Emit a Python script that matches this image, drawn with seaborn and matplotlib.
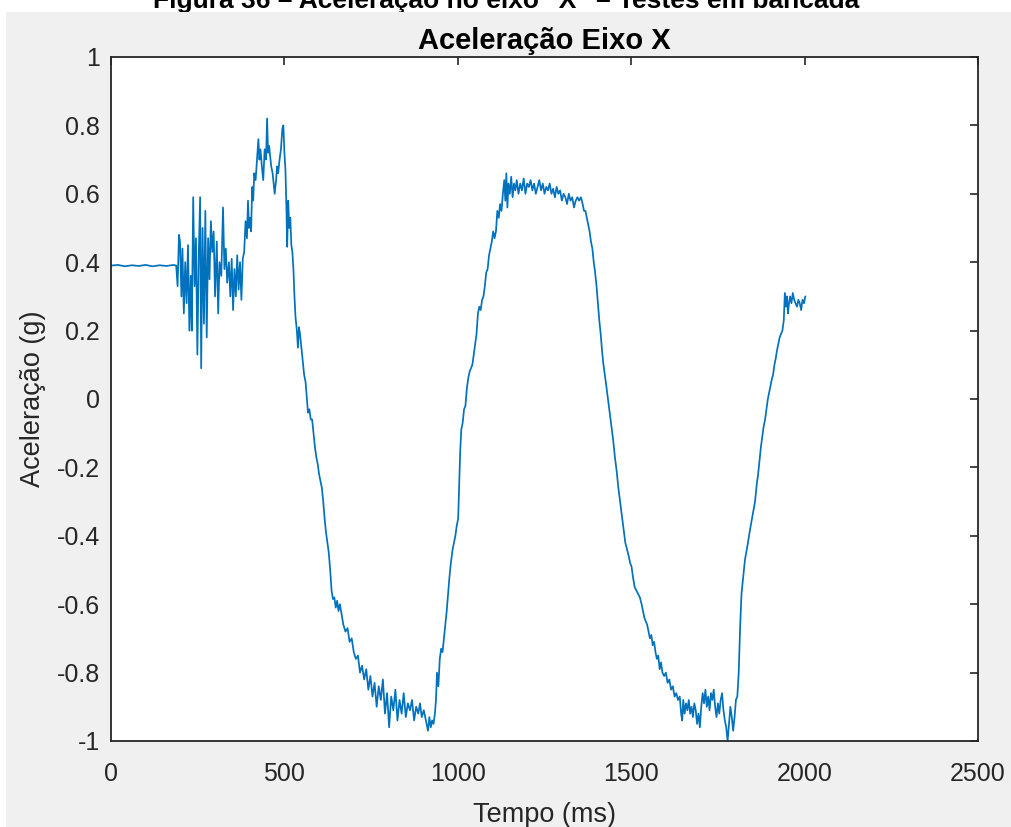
import matplotlib
matplotlib.use("Agg")
import matplotlib.pyplot as plt
from matplotlib.patches import Rectangle
import seaborn as sns
import pandas as pd

# ---- data ----
time_ms = [
    0, 20, 40, 60, 80, 100, 120, 140, 160, 180, 188,
    192, 196, 199, 203, 206, 210, 214, 218, 222, 226, 230, 233, 237, 241, 245, 249, 253, 257, 260, 264,
    268, 272, 276, 280, 284, 288, 292, 296, 300, 305, 309, 313, 318, 323, 327, 331, 335, 340, 344, 348,
    352, 356, 360, 364, 368, 372, 376, 380, 384,
    388, 392, 395, 398, 401, 404, 407, 410, 413, 417, 421, 425, 428, 431, 435, 439, 443, 447, 450, 453,
    456, 459, 462, 466, 469, 472, 476, 479, 482, 486, 490, 494, 497, 500, 503, 506,
    508, 511, 514, 517, 520, 523, 526, 529, 532, 536, 539, 542, 545, 549, 553, 557, 561, 565, 568, 572,
    576, 580, 584, 588, 592, 596, 600, 604, 608, 612, 616, 620, 624, 628, 632, 636,
    640, 644, 648, 652, 656, 660, 665, 670, 676, 682, 688, 694, 700, 706, 712, 718, 724, 730, 736, 742,
    748, 754, 760, 766, 772, 778, 784, 790, 796, 802, 808, 814, 820, 826, 832, 838, 844, 850, 856, 862,
    868, 874, 880, 886, 891, 896, 902, 908, 914, 918, 922, 926, 930, 934,
    937, 940, 944, 948, 952, 956, 960, 964, 968, 972, 976, 980, 985, 989, 993, 997, 1001, 1004, 1007, 1010,
    1014, 1018, 1022, 1026, 1030, 1034, 1038, 1042, 1046, 1050, 1054, 1058, 1062, 1066, 1070, 1074, 1078,
    1082, 1086, 1090, 1094, 1098, 1102, 1106, 1110, 1114, 1118, 1122, 1126, 1130, 1134, 1137,
    1140, 1143, 1146, 1150, 1154, 1158, 1162, 1166, 1170, 1175, 1180, 1185, 1190, 1195, 1200, 1205, 1210,
    1215, 1220, 1225, 1230, 1235, 1240, 1245, 1250, 1255, 1260, 1265, 1270, 1275, 1280, 1285, 1290, 1295,
    1300, 1305, 1310, 1315, 1320, 1325, 1330, 1335, 1340, 1345, 1350, 1355, 1360,
    1364, 1368, 1372, 1376, 1380, 1384, 1388, 1392, 1396, 1400, 1404, 1408, 1412, 1416, 1420, 1424, 1428,
    1433, 1438, 1443, 1448, 1453, 1458, 1463, 1468, 1473, 1478, 1483, 1488, 1493, 1497, 1501, 1505, 1510,
    1515, 1520, 1525, 1530, 1534, 1538, 1542, 1546, 1550, 1554, 1558, 1562, 1566, 1570, 1574, 1578, 1582,
    1586, 1590, 1595, 1600, 1605, 1610, 1615, 1620, 1625, 1630, 1635, 1640,
    1644, 1647, 1650, 1654, 1658, 1662, 1666, 1670, 1674, 1678, 1682, 1686, 1690, 1694, 1698, 1702, 1706,
    1710, 1714, 1718, 1722, 1726, 1730, 1734, 1738, 1742, 1746, 1750, 1754, 1758, 1762, 1766, 1770, 1774,
    1778, 1782, 1786, 1790, 1794, 1798, 1802, 1806, 1810,
    1814, 1818, 1822, 1828, 1835, 1843, 1850, 1857, 1862, 1866, 1870, 1874, 1878, 1882, 1886, 1890, 1894,
    1898, 1902, 1906, 1909, 1913, 1917, 1920, 1924, 1928, 1932, 1936, 1940, 1943, 1946, 1949, 1952, 1955,
    1958, 1962, 1966, 1970, 1974, 1978, 1982, 1986, 1990, 1994, 1998, 2002,
]

accel_g = [
    0.39, 0.392, 0.388, 0.391, 0.389, 0.392, 0.388, 0.391, 0.389, 0.392, 0.39,
    0.33, 0.48, 0.46, 0.30, 0.44, 0.25, 0.40, 0.28, 0.45, 0.20, 0.36, 0.20, 0.59, 0.33, 0.47, 0.13, 0.42, 0.59, 0.09, 0.50,
    0.22, 0.55, 0.18, 0.47, 0.35, 0.52, 0.43, 0.49, 0.30, 0.46, 0.25, 0.40, 0.36, 0.56, 0.38, 0.44, 0.34, 0.40, 0.30, 0.41,
    0.26, 0.38, 0.30, 0.42, 0.32, 0.40, 0.29, 0.41, 0.43,
    0.52, 0.47, 0.58, 0.50, 0.53, 0.49, 0.62, 0.58, 0.66, 0.64, 0.70, 0.76, 0.70, 0.73, 0.68, 0.64, 0.73, 0.70, 0.82, 0.72,
    0.74, 0.71, 0.68, 0.66, 0.63, 0.60, 0.64, 0.68, 0.66, 0.70, 0.73, 0.79, 0.80, 0.72, 0.67, 0.55,
    0.445, 0.58, 0.50, 0.53, 0.45, 0.43, 0.38, 0.30, 0.24, 0.20, 0.15, 0.21, 0.19, 0.15, 0.11, 0.07, 0.05, 0.00, -0.04, -0.03,
    -0.06, -0.06, -0.10, -0.14, -0.17, -0.19, -0.22, -0.24, -0.26, -0.30, -0.35, -0.39, -0.42, -0.45, -0.50, -0.56,
    -0.585, -0.58, -0.61, -0.59, -0.62, -0.60, -0.63, -0.66, -0.68, -0.67, -0.71, -0.70, -0.74, -0.76, -0.75, -0.80, -0.78, -0.82, -0.79, -0.85,
    -0.81, -0.87, -0.83, -0.90, -0.84, -0.88, -0.82, -0.92, -0.86, -0.96, -0.87, -0.91, -0.85, -0.94, -0.88, -0.92, -0.86, -0.93, -0.89, -0.91,
    -0.88, -0.94, -0.90, -0.92, -0.89, -0.93, -0.91, -0.94, -0.97, -0.93, -0.96, -0.94, -0.95, -0.92,
    -0.88, -0.80, -0.84, -0.76, -0.73, -0.74, -0.70, -0.66, -0.62, -0.57, -0.52, -0.48, -0.44, -0.42, -0.40, -0.37, -0.35, -0.25, -0.15, -0.09,
    -0.07, -0.03, -0.02, 0.03, 0.06, 0.08, 0.09, 0.10, 0.13, 0.16, 0.19, 0.25, 0.27, 0.26, 0.29, 0.30, 0.33,
    0.37, 0.38, 0.42, 0.44, 0.46, 0.49, 0.47, 0.49, 0.55, 0.53, 0.57, 0.55, 0.60, 0.64, 0.58,
    0.66, 0.56, 0.63, 0.60, 0.65, 0.59, 0.63, 0.61, 0.64, 0.60, 0.63, 0.61, 0.645, 0.60, 0.63, 0.62, 0.64,
    0.61, 0.63, 0.60, 0.62, 0.64, 0.61, 0.63, 0.60, 0.62, 0.61, 0.63, 0.60, 0.615, 0.59, 0.62, 0.60, 0.61,
    0.58, 0.60, 0.59, 0.57, 0.60, 0.58, 0.59, 0.56, 0.58, 0.59, 0.58, 0.59, 0.57,
    0.55, 0.55, 0.53, 0.51, 0.49, 0.46, 0.44, 0.40, 0.37, 0.33, 0.28, 0.23, 0.19, 0.14, 0.10, 0.07, 0.04,
    0.00, -0.04, -0.08, -0.12, -0.17, -0.21, -0.26, -0.30, -0.34, -0.38, -0.42, -0.44, -0.46, -0.48, -0.49, -0.52, -0.55,
    -0.56, -0.57, -0.58, -0.60, -0.62, -0.64, -0.65, -0.66, -0.68, -0.70, -0.69, -0.72, -0.71, -0.74, -0.76, -0.75, -0.79,
    -0.77, -0.80, -0.81, -0.80, -0.83, -0.82, -0.85, -0.84, -0.87, -0.86, -0.88, -0.87,
    -0.92, -0.94, -0.88, -0.92, -0.89, -0.91, -0.88, -0.92, -0.90, -0.93, -0.89, -0.91, -0.95, -0.92, -0.96, -0.90, -0.86,
    -0.89, -0.85, -0.90, -0.87, -0.91, -0.86, -0.88, -0.85, -0.90, -0.93, -0.89, -0.92, -0.88, -0.86, -0.91, -0.94, -0.96,
    -1.0, -0.95, -0.90, -0.93, -0.97, -0.93, -0.88, -0.87, -0.80,
    -0.67, -0.57, -0.53, -0.47, -0.43, -0.38, -0.34, -0.30, -0.25, -0.22, -0.18, -0.14, -0.11, -0.08, -0.06, -0.03, 0.00,
    0.02, 0.04, 0.06, 0.07, 0.10, 0.12, 0.14, 0.16, 0.18, 0.19, 0.20, 0.23, 0.31, 0.27, 0.30, 0.25, 0.28,
    0.30, 0.28, 0.31, 0.29, 0.28, 0.27, 0.29, 0.28, 0.26, 0.29, 0.28, 0.30,
]

x_ticks = [0, 500, 1000, 1500, 2000, 2500]
x_tick_labels = ["0", "500", "1000", "1500", "2000", "2500"]
y_ticks = [-1, -0.8, -0.6, -0.4, -0.2, 0, 0.2, 0.4, 0.6, 0.8, 1]
y_tick_labels = ["-1", "-0.8", "-0.6", "-0.4", "-0.2", "0", "0.2", "0.4", "0.6", "0.8", "1"]

caption = "Figura 36 – Aceleração no eixo \"X\" – Testes em bancada"
title = "Aceleração Eixo X"
x_label = "Tempo (ms)"
y_label = "Aceleração (g)"

# ---- style ----
sns.set_style("white")
plt.rcParams["font.family"] = ["Liberation Sans", "DejaVu Sans"]
plt.rcParams["axes.unicode_minus"] = False

W, H = 1012, 827
fig = plt.figure(figsize=(W / 100, H / 100), dpi=100)
fig.patch.set_facecolor("white")
fig.patches.append(Rectangle((6 / W, 0), 1, (H - 12) / H, transform=fig.transFigure,
                             facecolor="#f0f0f0", edgecolor="none", zorder=-10))

# caption of the source document, cut off at the top edge as in the reference
fig.text(0.5, 1 - 8 / H, caption, ha="center", va="baseline", fontsize=19,
         fontweight="bold", color="black", zorder=-20)

ax = fig.add_axes([111 / W, (H - 741) / H, 867 / W, 684 / H])
ax.set_facecolor("white")

df = pd.DataFrame({"Tempo": time_ms, "Aceleracao": accel_g})
sns.lineplot(data=df, x="Tempo", y="Aceleracao", ax=ax, color="#0072BD",
             linewidth=1.25, estimator=None, sort=False)

ax.set_xlim(0, 2500)
ax.set_ylim(-1, 1)
ax.set_xticks(x_ticks)
ax.set_xticklabels(x_tick_labels)
ax.set_yticks(y_ticks)
ax.set_yticklabels(y_tick_labels)

axis_color = "#262626"
for s in ax.spines.values():
    s.set_visible(True)
    s.set_color(axis_color)
    s.set_linewidth(1.3)
ax.tick_params(axis="both", which="both", direction="in", length=6, width=1.2,
               colors=axis_color, labelsize=18, top=True, right=True)
ax.tick_params(axis="x", pad=15)
ax.tick_params(axis="y", pad=8)

ax.set_xlabel(x_label, fontsize=19.5, color=axis_color, labelpad=12)
ax.set_ylabel(y_label, fontsize=19.5, color=axis_color, labelpad=8)
ax.set_title(title, fontsize=21, fontweight="bold", color="black", pad=6)

fig.savefig("out.png", dpi=100, facecolor=fig.get_facecolor())
